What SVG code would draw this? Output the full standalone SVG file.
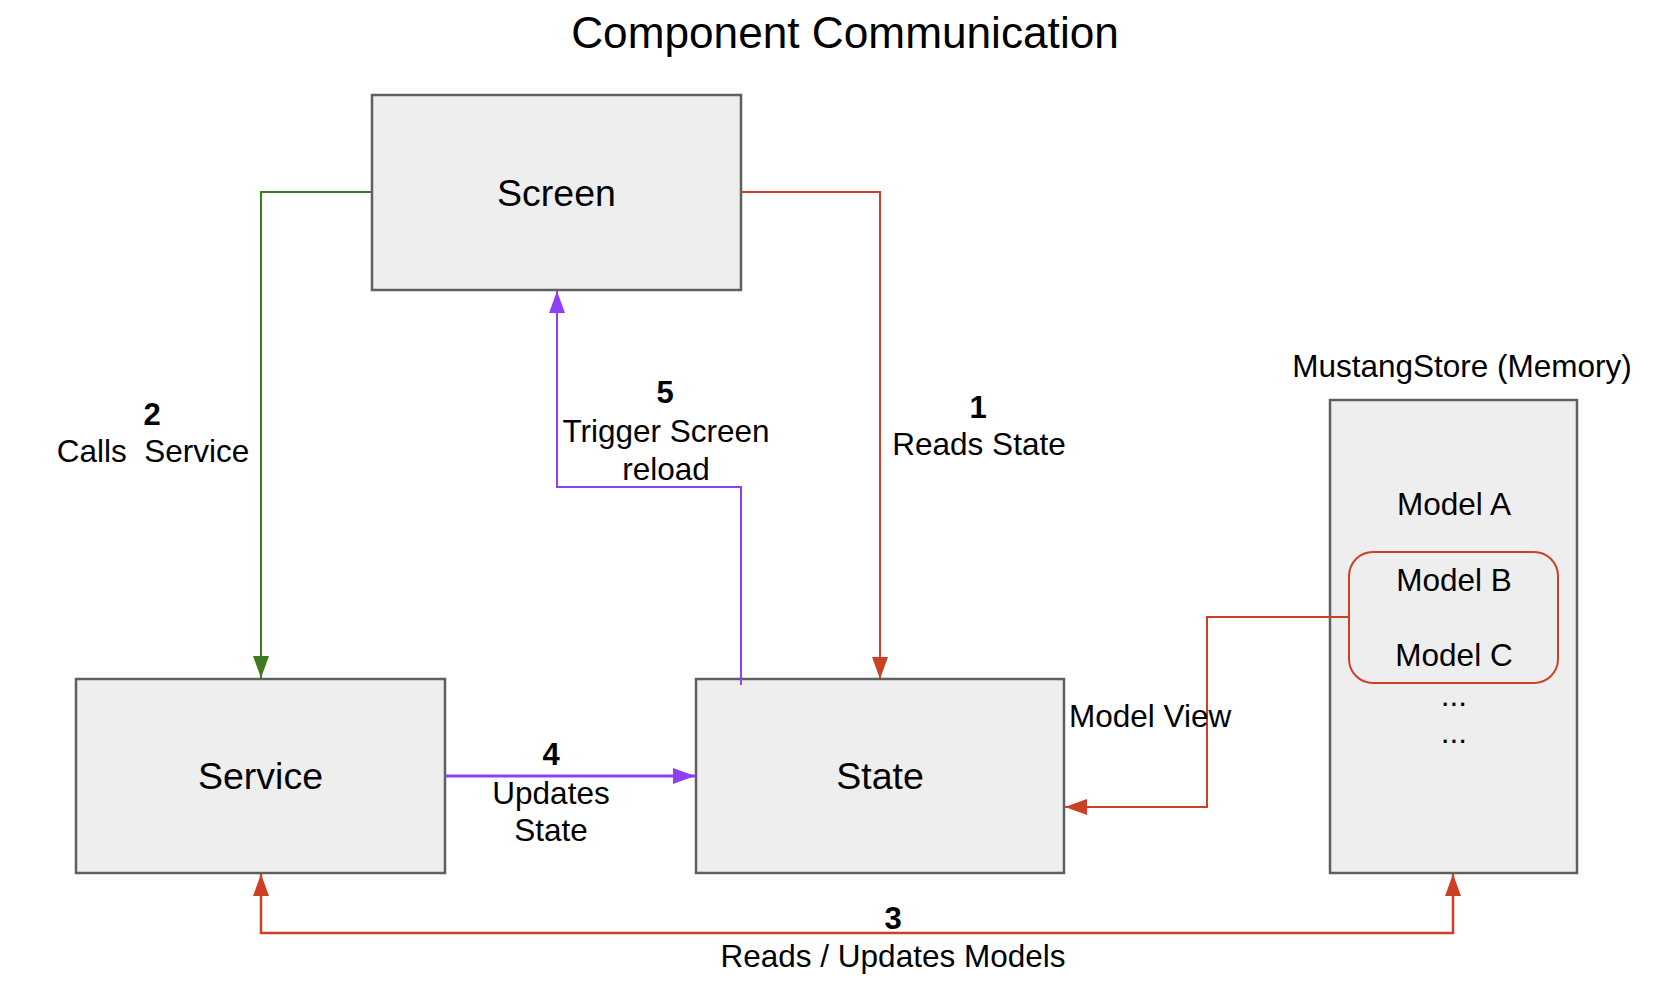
<svg xmlns="http://www.w3.org/2000/svg" width="1676" height="1004" viewBox="0 0 1676 1004">
<style>
.box{fill:#eeeeee;stroke:#5f5f5f;stroke-width:2.5}
.t{font-family:"Liberation Sans",Arial,sans-serif;fill:#000;text-anchor:middle}
.lbl{font-size:31.5px}
.num{font-size:31px;font-weight:bold}
.big{font-size:37.5px}
.red{fill:none;stroke:#cc4125;stroke-width:2}
.grn{fill:none;stroke:#3f7a22;stroke-width:2}
.pur{fill:none;stroke:#8f3ff7;stroke-width:2}
</style>
<defs>
<marker id="aRed" markerUnits="userSpaceOnUse" markerWidth="22" markerHeight="16" refX="22" refY="8" orient="auto"><path d="M0,0 L22,8 L0,16 z" fill="#cc4125"/></marker>
<marker id="aRedS" markerUnits="userSpaceOnUse" markerWidth="22" markerHeight="16" refX="0" refY="8" orient="auto"><path d="M22,0 L0,8 L22,16 z" fill="#cc4125"/></marker>
<marker id="aGrn" markerUnits="userSpaceOnUse" markerWidth="22" markerHeight="16" refX="22" refY="8" orient="auto"><path d="M0,0 L22,8 L0,16 z" fill="#3f7a22"/></marker>
<marker id="aPur" markerUnits="userSpaceOnUse" markerWidth="22" markerHeight="16" refX="22" refY="8" orient="auto"><path d="M0,0 L22,8 L0,16 z" fill="#8f3ff7"/></marker>
</defs>
<rect width="1676" height="1004" fill="#ffffff"/>
<text class="t" x="845" y="48" font-size="44.2">Component Communication</text>

<g id="screen">
<rect class="box" x="372" y="95" width="369" height="195"/>
<text class="t big" x="556.5" y="206">Screen</text>
</g>
<g id="service">
<rect class="box" x="76" y="679" width="369" height="194"/>
<text class="t big" x="260.5" y="789">Service</text>
</g>
<g id="state">
<rect class="box" x="696" y="679" width="368" height="194"/>
<text class="t big" x="880" y="789">State</text>
</g>
<g id="mustangstore">
<text class="t lbl" x="1462" y="377">MustangStore (Memory)</text>
<rect class="box" x="1330" y="400" width="247" height="473"/>
<text class="t lbl" x="1454" y="515">Model A</text>
<text class="t lbl" x="1454" y="706">...</text>
<text class="t lbl" x="1454" y="743">...</text>
</g>
<g id="models-bc">
<rect x="1349" y="552" width="209" height="131" rx="24" fill="none" stroke="#cc4125" stroke-width="2"/>
<text class="t lbl" x="1454" y="591">Model B</text>
<text class="t lbl" x="1454" y="666">Model C</text>
</g>

<g id="connectors">
<path class="grn" d="M372,192 H261 V678" marker-end="url(#aGrn)"/>
<path class="red" d="M741,192 H880 V679" marker-end="url(#aRed)"/>
<path class="pur" d="M741,685 V487 H557 V291" marker-end="url(#aPur)"/>
<path class="pur" d="M445,776 H695" style="stroke-width:3" marker-end="url(#aPur)"/>
<path class="red" d="M1349,617 H1207 V807 H1065" marker-end="url(#aRed)"/>
<path class="red" d="M261,874 V933 H1453 V874" style="stroke-width:2.5" marker-start="url(#aRedS)" marker-end="url(#aRed)"/>
<text class="t num" x="152" y="425">2</text>
<text class="t lbl" x="153" y="462" xml:space="preserve">Calls  Service</text>
<text class="t num" x="978" y="418">1</text>
<text class="t lbl" x="979" y="455">Reads State</text>
<text class="t num" x="665" y="403">5</text>
<text class="t lbl" x="666" y="442">Trigger Screen</text>
<text class="t lbl" x="666" y="480">reload</text>
<text class="t num" x="551" y="765">4</text>
<text class="t lbl" x="551" y="804">Updates</text>
<text class="t lbl" x="551" y="841">State</text>
<text class="t num" x="893" y="929">3</text>
<text class="t lbl" x="893" y="967">Reads / Updates Models</text>
<text class="t lbl" x="1069" y="727" style="text-anchor:start">Model View</text>
</g>
</svg>
